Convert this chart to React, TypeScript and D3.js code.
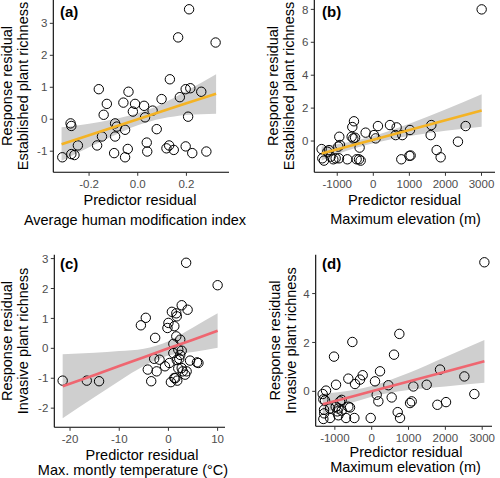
import React from "react";
import * as d3 from "d3";

// ---------- data ----------
const pointsA: [number, number][] = [
  [-0.31, -1.19], [-0.273, -1.09], [-0.26, -1.12], [-0.246, -0.82], [-0.276, -0.13], [-0.273, -0.21],
  [-0.167, -0.82], [-0.16, 0.94], [-0.147, -0.54], [-0.14, 0.14], [-0.127, 0.48], [-0.097, -1.06],
  [-0.093, -0.54], [-0.093, -0.13], [-0.086, -0.23], [-0.059, 0.52], [-0.052, -0.33], [-0.052, -1.19],
  [-0.041, -0.93], [-0.038, 0.86], [-0.02, 0.24], [-0.011, 0.48], [0.026, 0.42], [0.03, 0.06],
  [0.037, -0.73], [0.039, -1.01], [0.061, 0.27], [0.078, -0.31], [0.098, 0.63], [0.118, -0.91],
  [0.132, 1.25], [0.129, -0.82], [0.148, -0.96], [0.166, 2.56], [0.173, 0.69], [0.197, 0.94],
  [0.197, -0.85], [0.207, 0.08], [0.211, 3.44], [0.216, 0.97], [0.224, -1.06], [0.261, 0.86],
  [0.282, -1.01], [0.32, 2.4],
];
const pointsB: [number, number][] = [
  [-1433, -0.49], [-1414, -1.05], [-1368, -1.19], [-1275, -0.65], [-1229, -0.55], [-1183, -0.95],
  [-1109, -1.11], [-1044, -1.05], [-970, -0.34], [-943, 0.26], [-924, -0.24], [-952, -1.05],
  [-721, -1.11], [-600, 0.26], [-582, 0.85], [-536, 1.2], [-554, 0.16], [-462, -1.11],
  [-397, -1.11], [-351, -1.19], [-380, -0.4], [-213, 0.51], [18, 0.36], [65, 0.16], [129, 0.91],
  [462, 0.97], [647, 0.83], [619, 0.36], [804, 0.36], [776, -1.11], [1017, 0.67], [1000, -0.9],
  [1035, -0.88], [1608, 0.97], [1590, 0.36], [1756, -0.55], [1867, -0.99], [2347, -0.04],
  [2560, 0.91], [3004, 8.0], [-505, 0.2],
];
const pointsC: [number, number][] = [
  [-21.5, -1.08], [-16.6, -1.08], [-14.1, -1.1], [-5.6, 0.77], [-4.6, 1.02], [-4.2, -0.71],
  [-3.5, -1.1], [-2.7, 0.35], [-2.9, -0.35], [-2.4, -0.77], [-1.8, -0.38], [-0.7, -0.6],
  [-0.2, 0.68], [0, 0.85], [0.2, -0.49], [0.5, -1.13], [0.7, 1.22], [1.2, 0.74], [1.0, 0.15],
  [1.0, -0.16], [1.2, -0.99], [1.6, 0.4], [1.7, 1.07], [1.8, -1.08], [2.0, -0.04], [2.2, -0.35],
  [2.4, 0.29], [2.7, 1.44], [2.7, -0.08], [2.7, -0.66], [2.9, -0.77], [3.4, -0.88], [3.6, 2.86],
  [3.9, 1.29], [3.7, -0.77], [4.4, -0.41], [5.8, -0.47], [6.1, -0.49], [10.0, 2.11], [1.6, 1.17],
  [2.4, -0.22], [1.7, -0.39], [2.0, -0.67], [1.4, -1.0],
];
const pointsD: [number, number][] = [
  [3059, 5.28], [-1330, -0.11], [-1267, -0.37], [-1240, 0.03], [-1294, -0.75], [-1312, -1.13],
  [-1131, -1.09], [-1023, 1.42], [-968, 0.27], [-932, -0.82], [-905, -0.98], [-860, -0.41],
  [-815, -0.79], [-697, -1.09], [-634, 0.52], [-588, -0.66], [-525, 2.02], [-470, -1.09],
  [-453, 0.3], [-317, 0.48], [-244, 0.66], [-27, -1.09], [90, 0.41], [136, -0.14], [181, -0.41],
  [226, 0.82], [452, 0.25], [543, -0.25], [606, 1.5], [706, -0.85], [751, 2.35], [769, -1.09],
  [1041, -0.48], [1086, -0.41], [1131, 0.2], [1493, 0.27], [1783, -0.55], [1855, 0.89],
  [2018, -0.44], [2516, 0.61], [2787, -0.11], [-1312, -0.33], [-1131, -0.7], [-905, -0.7],
  [-815, -0.35], [-634, -0.63], [-977, -0.63], [-1290, -0.9],
];

// fitted line + confidence band (x, fit, lower, upper)
const bandA: [number, number, number, number][] = [
  [-0.313, -0.78, -1.3, -0.25], [-0.2, -0.5, -0.88, -0.14], [-0.1, -0.25, -0.52, 0.0],
  [0.0, 0.0, -0.19, 0.19], [0.1, 0.25, 0.02, 0.48], [0.2, 0.5, 0.13, 0.88], [0.322, 0.8, 0.17, 1.41],
];
const bandB: [number, number, number, number][] = [
  [-1433, -0.76, -1.18, -0.33], [-500, -0.21, -0.43, 0.02], [0, 0.08, -0.14, 0.31],
  [1000, 0.67, 0.3, 1.05], [2000, 1.26, 0.62, 1.92], [3004, 1.85, 0.87, 2.85],
];
const bandC: [number, number, number, number][] = [
  [-21.5, -1.27, -2.34, -0.2], [-15, -0.89, -1.63, -0.15], [-10, -0.59, -1.09, -0.09],
  [-5, -0.3, -0.59, -0.01], [0, 0.0, -0.24, 0.24], [5, 0.29, -0.12, 0.7], [10, 0.59, 0.02, 1.17],
];
const bandD: [number, number, number, number][] = [
  [-1330, -0.53, -0.95, -0.1], [-500, -0.2, -0.45, 0.05], [0, 0.0, -0.22, 0.22],
  [1000, 0.4, 0.05, 0.75], [2000, 0.8, 0.2, 1.4], [3059, 1.23, 0.35, 2.1],
];

const xTicksA = [-0.2, 0.0, 0.2];
const yTicksA = [-1, 0, 1, 2, 3];
const xTicksB = [-1000, 0, 1000, 2000, 3000];
const yTicksB = [0, 2, 4, 6, 8];
const xTicksC = [-20, -10, 0, 10];
const yTicksC = [-2, -1, 0, 1, 2, 3];
const xTicksD = [-1000, 0, 1000, 2000, 3000];
const yTicksD = [0, 2, 4];

const ORANGE = "#F4B324";
const PINK = "#EF6670";

type PanelProps = {
  label: string;
  points: [number, number][];
  band: [number, number, number, number][];
  xTicks: number[];
  yTicks: number[];
  xFmt: (v: number) => string;
  xDom: [number, number];
  yDom: [number, number];
  box: { left: number; right: number; top: number; bottom: number };
  color: string;
  yTitle: [string, string];
  yTitlePos: [number, number, number];
  xTitle: [string, string];
  xTitlePos: [number, number, number, number];
  labelPos: [number, number];
};

const TITLE_FONT = "'Liberation Sans', Arial, sans-serif";
const TICK_FONT = "'Liberation Sans Narrow', 'Arial Narrow', 'Liberation Sans', Arial, sans-serif";

function Panel(p: PanelProps) {
  const { box } = p;
  const x = d3.scaleLinear().domain(p.xDom).range([box.left, box.right]);
  const y = d3.scaleLinear().domain(p.yDom).range([box.bottom, box.top]);
  const area = d3
    .area<[number, number, number, number]>()
    .x((d) => x(d[0]))
    .y0((d) => y(d[2]))
    .y1((d) => y(d[3]))
    .curve(d3.curveMonotoneX);
  const line = d3
    .line<[number, number, number, number]>()
    .x((d) => x(d[0]))
    .y((d) => y(d[1]));
  return (
    <g>
      <path d={area(p.band) || ""} fill="#cfcfcf" stroke="none" />
      {p.points.map((d, i) => (
        <circle key={i} cx={x(d[0])} cy={y(d[1])} r={4.7} fill="none" stroke="#000" strokeWidth={1} />
      ))}
      <path d={line(p.band) || ""} fill="none" stroke={p.color} strokeWidth={2.6} />
      {/* axes */}
      <line x1={box.left} x2={box.left} y1={box.top} y2={box.bottom} stroke="#000" strokeWidth={1.1} />
      <line x1={box.left} x2={box.right} y1={box.bottom} y2={box.bottom} stroke="#000" strokeWidth={1.1} />
      {p.yTicks.map((t) => (
        <g key={"y" + t}>
          <line x1={box.left - 3.5} x2={box.left} y1={y(t)} y2={y(t)} stroke="#333" strokeWidth={1} />
          <text x={box.left - 6} y={y(t)} dy="0.36em" textAnchor="end" fontSize={11.5} fill="#4D4D4D" fontFamily={TICK_FONT}>
            {String(t)}
          </text>
        </g>
      ))}
      {p.xTicks.map((t) => (
        <g key={"x" + t}>
          <line x1={x(t)} x2={x(t)} y1={box.bottom} y2={box.bottom + 3.5} stroke="#333" strokeWidth={1} />
          <text x={x(t)} y={box.bottom + 16} textAnchor="middle" fontSize={11.5} fill="#4D4D4D" fontFamily={TICK_FONT}>
            {p.xFmt(t)}
          </text>
        </g>
      ))}
      <text x={p.labelPos[0]} y={p.labelPos[1]} fontSize={15} fontWeight="bold" fontFamily={TITLE_FONT} fill="#000">
        {p.label}
      </text>
      <text transform={`translate(${p.yTitlePos[0]},${p.yTitlePos[2]}) rotate(-90)`} textAnchor="middle" fontSize={14.5} fontFamily={TITLE_FONT} fill="#000">
        {p.yTitle[0]}
      </text>
      <text transform={`translate(${p.yTitlePos[1]},${p.yTitlePos[2]}) rotate(-90)`} textAnchor="middle" fontSize={14.5} fontFamily={TITLE_FONT} fill="#000">
        {p.yTitle[1]}
      </text>
      <text x={p.xTitlePos[0]} y={p.xTitlePos[1]} textAnchor="middle" fontSize={14.5} fontFamily={TITLE_FONT} fill="#000">
        {p.xTitle[0]}
      </text>
      <text x={p.xTitlePos[2]} y={p.xTitlePos[3]} textAnchor="middle" fontSize={14.5} fontFamily={TITLE_FONT} fill="#000">
        {p.xTitle[1]}
      </text>
    </g>
  );
}

export default function App() {
  const fmt1 = (v: number) => v.toFixed(1);
  const fmt0 = (v: number) => String(v);
  return (
    <svg width={500} height={478} style={{ position: "absolute", left: 0, top: 0, background: "#fff" }}>
      <rect width={500} height={478} fill="#fff" />
      <Panel
        label="(a)"
        points={pointsA}
        band={bandA}
        xTicks={xTicksA}
        yTicks={yTicksA}
        xFmt={fmt1}
        xDom={[-0.347, 0.375]}
        yDom={[-1.66, 3.73]}
        box={{ left: 53.3, right: 229, top: 0, bottom: 172.3 }}
        color={ORANGE}
        yTitle={["Response residual", "Established plant richness"]}
        yTitlePos={[12, 28, 86]}
        xTitle={["Predictor residual", "Average human modification index"]}
        xTitlePos={[140, 205, 135, 225]}
        labelPos={[60, 16.5]}
      />
      <Panel
        label="(b)"
        points={pointsB}
        band={bandB}
        xTicks={xTicksB}
        yTicks={yTicksB}
        xFmt={fmt0}
        xDom={[-1636, 3374]}
        yDom={[-1.9, 8.57]}
        box={{ left: 314.3, right: 495, top: 0, bottom: 172.3 }}
        color={ORANGE}
        yTitle={["Response residual", "Established plant richness"]}
        yTitlePos={[278, 294, 86]}
        xTitle={["Predictor residual", "Maximum elevation (m)"]}
        xTitlePos={[404.5, 205, 405.5, 224]}
        labelPos={[322, 16.5]}
      />
      <Panel
        label="(c)"
        points={pointsC}
        band={bandC}
        xTicks={xTicksC}
        yTicks={yTicksC}
        xFmt={fmt0}
        xDom={[-23.2, 11.5]}
        yDom={[-2.64, 3.13]}
        box={{ left: 54.3, right: 225, top: 254.7, bottom: 427.3 }}
        color={PINK}
        yTitle={["Response residual", "Invasive plant richness"]}
        yTitlePos={[12, 27.5, 341]}
        xTitle={["Predictor residual", "Max. montly temperature (°C)"]}
        xTitlePos={[142, 459.5, 133, 474.5]}
        labelPos={[60, 269]}
      />
      <Panel
        label="(d)"
        points={pointsD}
        band={bandD}
        xTicks={xTicksD}
        yTicks={yTicksD}
        xFmt={fmt0}
        xDom={[-1520, 3266]}
        yDom={[-1.43, 5.59]}
        box={{ left: 315.7, right: 492, top: 254.7, bottom: 426.3 }}
        color={PINK}
        yTitle={["Response residual", "Invasive plant richness"]}
        yTitlePos={[280, 295.5, 340.5]}
        xTitle={["Predictor residual", "Maximum elevation (m)"]}
        xTitlePos={[406, 457, 405.5, 472]}
        labelPos={[322, 269]}
      />
    </svg>
  );
}
